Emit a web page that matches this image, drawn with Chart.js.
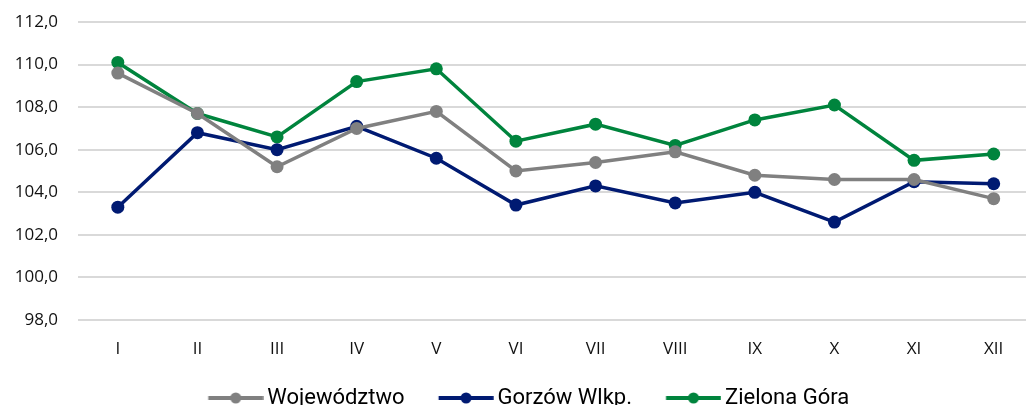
<!DOCTYPE html>
<html>
<head>
<meta charset="utf-8">
<script src="https://cdn.jsdelivr.net/npm/chart.js@4"></script>
<style>
    html, body { margin: 0; padding: 0; background: #fff; overflow: hidden; }
    #wrap { width: 1040px; height: 419px; }
</style>
</head>
<body>
<div id="wrap"><canvas id="chart"></canvas></div>
<script>
// Data
const months = ['I', 'II', 'III', 'IV', 'V', 'VI', 'VII', 'VIII', 'IX', 'X', 'XI', 'XII'];
const wojewodztwo = [109.6, 107.7, 105.2, 107.0, 107.8, 105.0, 105.4, 105.9, 104.8, 104.6, 104.6, 103.7];
const gorzow = [103.3, 106.8, 106.0, 107.1, 105.6, 103.4, 104.3, 103.5, 104.0, 102.6, 104.5, 104.4];
const zielonaGora = [110.1, 107.7, 106.6, 109.2, 109.8, 106.4, 107.2, 106.2, 107.4, 108.1, 105.5, 105.8];

const colors = {
    woj: '#808080',
    gorzow: '#001a72',
    zg: '#00843d'
};

const LEGEND_BOX = 65.4;

// Legend marker: line with dot (drawn shifted so it sits just left of the text)
function legendIcon(color) {
    const c = document.createElement('canvas');
    c.width = 80;
    c.height = 16;
    const ctx = c.getContext('2d');
    const x0 = 24.7, x1 = 79.7;
    ctx.strokeStyle = color;
    ctx.lineWidth = 4;
    ctx.beginPath();
    ctx.moveTo(x0, 8);
    ctx.lineTo(x1, 8);
    ctx.stroke();
    ctx.fillStyle = color;
    ctx.beginPath();
    ctx.arc((x0 + x1) / 2, 8, 5.5, 0, Math.PI * 2);
    ctx.fill();
    return c;
}

function makeSet(label, data, color) {
    return {
        label: label,
        data: data,
        borderColor: color,
        backgroundColor: color,
        borderWidth: 3.5,
        pointRadius: 6.5,
        pointHoverRadius: 6.5,
        pointBorderWidth: 0,
        tension: 0,
        pointStyle: 'circle'
    };
}

const ctx = document.getElementById('chart').getContext('2d');
new Chart(ctx, {
    type: 'line',
    data: {
        labels: months,
        datasets: [
            makeSet('Województwo', wojewodztwo, colors.woj),
            makeSet('Gorzów Wlkp.', gorzow, colors.gorzow),
            makeSet('Zielona Góra', zielonaGora, colors.zg)
        ]
    },
    options: {
        responsive: true,
        maintainAspectRatio: false,
        animation: false,
        layout: { padding: { top: 22, bottom: 0, left: 0, right: 0 } },
        plugins: {
            tooltip: { enabled: false },
            legend: {
                position: 'bottom',
                align: 'center',
                labels: {
                    color: '#111',
                    font: { family: 'Roboto', size: 22 },
                    usePointStyle: true,
                    pointStyleWidth: LEGEND_BOX,
                    padding: 16.6,
                    generateLabels: (chart) => chart.data.datasets.map((ds, i) => ({
                        text: ds.label,
                        fillStyle: ds.borderColor,
                        strokeStyle: ds.borderColor,
                        pointStyle: legendIcon(ds.borderColor),
                        datasetIndex: i,
                        hidden: false
                    }))
                }
            }
        },
        scales: {
            x: {
                offset: true,
                grid: { display: false },
                border: { display: false },
                ticks: {
                    color: '#111',
                    font: { family: 'Open Sans', size: 17 },
                    padding: 11
                }
            },
            y: {
                min: 98,
                max: 112,
                afterFit: (scale) => {
                    scale.width = 78;
                    // tick padding is horizontal only here
                    scale.paddingTop = 0;
                    scale.paddingBottom = 0;
                },
                grid: { color: '#d9d9d9', lineWidth: 2, drawTicks: false },
                border: { display: false },
                ticks: {
                    stepSize: 2,
                    color: '#111',
                    padding: 20,
                    font: { family: 'Open Sans', size: 17 },
                    callback: (v) => v.toFixed(1).replace('.', ',')
                }
            }
        }
    }
});
</script>
</body>
</html>
